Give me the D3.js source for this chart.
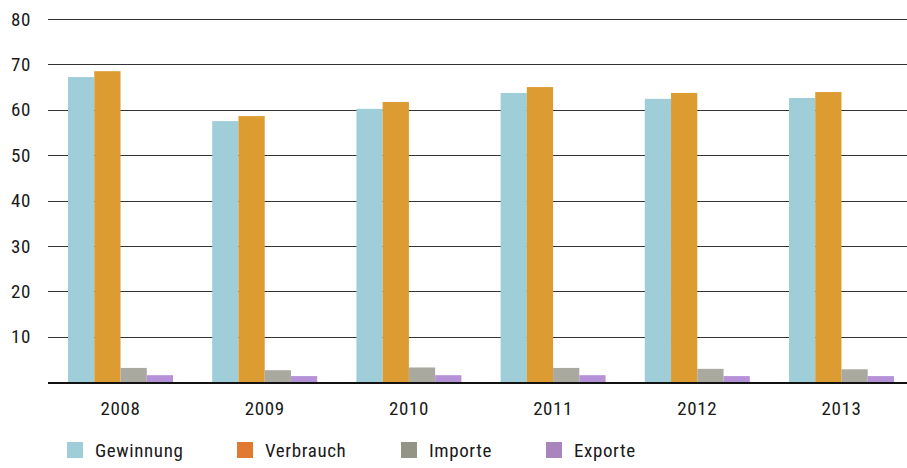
<!DOCTYPE html>
<meta charset="utf-8">
<title>Gewinnung, Verbrauch, Importe, Exporte</title>
<style>

body {
  margin: 0;
  background: #fff;
}

text {
  font-family: "Liberation Sans Narrow", "Roboto Condensed", "DejaVu Sans Condensed", sans-serif;
  font-size: 19px;
  letter-spacing: 0.6px;
  fill: #1a1a1a;
}

</style>
<body>
<script src="https://d3js.org/d3.v7.min.js"></script>
<script>

var years = ["2008", "2009", "2010", "2011", "2012", "2013"];
var series = ["Gewinnung", "Verbrauch", "Importe", "Exporte"];
var gewinnung = [67.2, 57.5, 60.2, 63.7, 62.4, 62.6];
var verbrauch = [68.5, 58.6, 61.7, 65.0, 63.7, 63.9];
var importe = [3.1, 2.6, 3.2, 3.1, 2.9, 2.8];
var exporte = [1.5, 1.3, 1.5, 1.5, 1.3, 1.3];
var yTicks = [10, 20, 30, 40, 50, 60, 70, 80];

var barColors = ["#9fcdd8", "#dc9c32", "#aaa99f", "#b591d8"];
var legendColors = ["#9fcdd8", "#e07a30", "#939386", "#a985be"];

var values = [gewinnung, verbrauch, importe, exporte];

var w = 907,
    h = 468,
    plotLeft = 48,
    plotRight = 907,
    plotTop = 19,
    plotBottom = 382;

var svg = d3.select("body").append("svg")
    .attr("width", w)
    .attr("height", h);

var y = d3.scaleLinear()
    .domain([0, 80])
    .range([plotBottom, plotTop]);

var x0 = d3.scaleBand()
    .domain(years)
    .range([plotLeft, 914])
    .paddingInner(0.272)
    .paddingOuter(0.139);

var x1 = d3.scaleBand()
    .domain(series)
    .range([0, x0.bandwidth()]);

// grid lines
svg.selectAll(".grid")
    .data(yTicks)
  .enter().append("line")
    .attr("x1", plotLeft)
    .attr("x2", plotRight)
    .attr("y1", function(d) { return Math.round(y(d)) + 0.5; })
    .attr("y2", function(d) { return Math.round(y(d)) + 0.5; })
    .attr("stroke", "#333")
    .attr("stroke-width", 1);

svg.selectAll(".ylab")
    .data(yTicks)
  .enter().append("text")
    .attr("x", 31)
    .attr("y", function(d) { return y(d); })
    .attr("dy", "0.35em")
    .attr("text-anchor", "end")
    .text(function(d) { return d; });

var groups = svg.selectAll(".year")
    .data(years)
  .enter().append("g")
    .attr("transform", function(d) { return "translate(" + x0(d) + ",0)"; });

groups.selectAll("rect")
    .data(function(d, i) {
      return series.map(function(s, j) { return {s: s, j: j, v: values[j][i]}; });
    })
  .enter().append("rect")
    .attr("x", function(d) { return x1(d.s); })
    .attr("width", x1.bandwidth())
    .attr("y", function(d) { return y(d.v); })
    .attr("height", function(d) { return plotBottom - y(d.v); })
    .attr("fill", function(d) { return barColors[d.j]; });

// baseline
svg.append("line")
    .attr("x1", plotLeft)
    .attr("x2", plotRight)
    .attr("y1", plotBottom + 1)
    .attr("y2", plotBottom + 1)
    .attr("stroke", "#111")
    .attr("stroke-width", 2);

svg.selectAll(".xlab")
    .data(years)
  .enter().append("text")
    .attr("x", function(d) { return x0(d) + x0.bandwidth() / 2; })
    .attr("y", 415)
    .attr("text-anchor", "middle")
    .text(function(d) { return d; });

var legendX = [67, 237, 401, 546];

var legend = svg.selectAll(".legend")
    .data(series)
  .enter().append("g")
    .attr("transform", function(d, i) { return "translate(" + legendX[i] + ",442)"; });

legend.append("rect")
    .attr("width", 16)
    .attr("height", 16)
    .attr("fill", function(d, i) { return legendColors[i]; });

legend.append("text")
    .attr("x", 28)
    .attr("y", 15)
    .text(function(d) { return d; });

</script>
